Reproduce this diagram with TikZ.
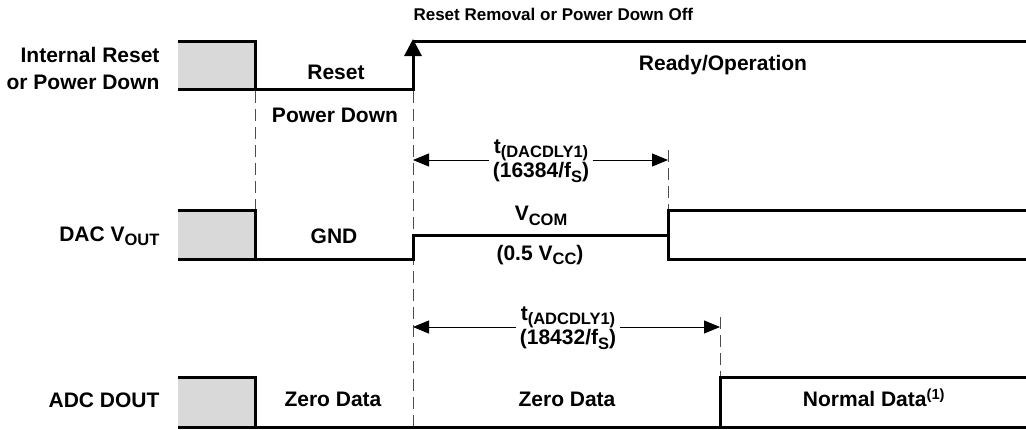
\documentclass[tikz,border=0pt]{standalone}
\usepackage{fontspec}
\setmainfont{Liberation Sans}
\usetikzlibrary{arrows.meta}
\definecolor{boxgray}{HTML}{D9D9D9}
\newcommand{\lowtxt}[1]{\raisebox{-0.4ex}{\fontsize{16.5}{17}\selectfont #1}}
\tikzset{
  sig/.style={line width=3pt},
  guide/.style={line width=0.9pt, black!70, dash pattern=on 12pt off 6pt},
  dimline/.style={line width=0.9pt, -{Triangle[length=16pt,width=13pt]}},
  twoline/.style={align=center, font=\bfseries\fontsize{21}{22}\selectfont}
}

\begin{document}
\begin{tikzpicture}[x=1pt,y=-1pt,font=\bfseries\fontsize{21}{27}\selectfont]
\useasboundingbox (0,0) rectangle (1026,429);
% shaded start of each trace
\foreach \yt/\yb in {41/89, 210/259, 377/427}
  \fill[boxgray] (178,\yt) rectangle (255,\yb);
% dashed guides
\draw[guide] (255,91) -- (255,210);
\draw[guide] (413,91) -- (413,427);
\draw[guide] (668,150) -- (668,210);
\draw[guide] (720,317) -- (720,377);
% internal reset / power down
\draw[sig] (178,41) -- (255,41) -- (255,89);
\draw[sig,-{Triangle[length=17pt,width=17pt]}] (178,89) -- (413,89) -- (413,39);
\draw[sig] (413,41) -- (1026,41);
% DAC Vout
\draw[sig] (178,210) -- (255,210) -- (255,259);
\draw[sig] (178,259) -- (413,259) -- (413,235) -- (668,235);
\draw[sig] (1026,210) -- (668,210) -- (668,259) -- (1026,259);
% ADC Dout
\draw[sig] (178,377) -- (255,377) -- (255,427);
\draw[sig] (178,427) -- (1026,427);
\draw[sig] (1026,377) -- (720,377) -- (720,427);
% labels
\node[anchor=west,font=\bfseries\fontsize{17}{19}\selectfont] (rmv) at (410,14) {Reset Removal or Power Down Off};
\node[align=right,anchor=east] (irst) at (163,68) {Internal Reset\\or Power Down};
\node (rst) at (336,72) {Reset};
\node (pwd) at (335,115) {Power Down};
\node (rdy) at (723,65) {Ready/Operation};
\node[anchor=east] (dacv) at (163,236) {DAC V\lowtxt{OUT}};
\node (gnd) at (334,236) {GND};
\node (vcom) at (541,216) {V\lowtxt{COM}};
\node (vcc) at (540,255) {(0.5 V\lowtxt{CC})};
\node[anchor=east] (adcd) at (163,400) {ADC DOUT};
\node (zd1) at (333,399) {Zero Data};
\node (zd2) at (567,399) {Zero Data};
\node (nd) at (874,398) {Normal Data\textsuperscript{(1)}};
% delay markers
\coordinate (dacL) at (413,160);
\coordinate (dacR) at (668,160);
\node[twoline] (tdac) at (541,161) {t\lowtxt{(DACDLY1)}\\(16384/f\lowtxt{S})};
\draw[dimline] (tdac.west |- dacL) -- (dacL);
\draw[dimline] (tdac.east |- dacR) -- (dacR);
\coordinate (adcL) at (413,327);
\coordinate (adcR) at (720,327);
\node[twoline] (tadc) at (568,328) {t\lowtxt{(ADCDLY1)}\\(18432/f\lowtxt{S})};
\draw[dimline] (tadc.west |- adcL) -- (adcL);
\draw[dimline] (tadc.east |- adcR) -- (adcR);
\end{tikzpicture}
\end{document}
